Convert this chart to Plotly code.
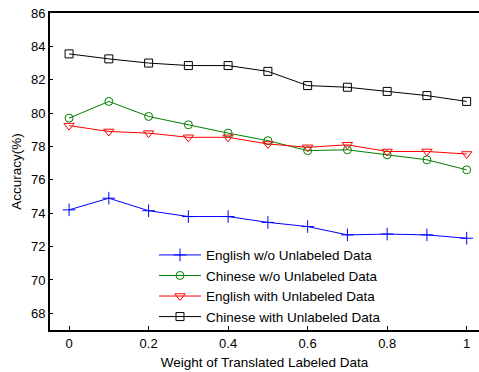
import plotly.graph_objects as go

x_vals = [0, 0.1, 0.2, 0.3, 0.4, 0.5, 0.6, 0.7, 0.8, 0.9, 1.0]
english_wo = [74.2, 74.9, 74.15, 73.8, 73.8, 73.45, 73.2, 72.7, 72.75, 72.7, 72.5]
chinese_wo = [79.7, 80.7, 79.8, 79.3, 78.8, 78.35, 77.75, 77.8, 77.5, 77.2, 76.6]
english_with = [79.25, 78.9, 78.8, 78.55, 78.55, 78.15, 77.95, 78.1, 77.7, 77.7, 77.55]
chinese_with = [83.55, 83.25, 83.0, 82.85, 82.85, 82.5, 81.65, 81.55, 81.3, 81.05, 80.7]

series = [
    ("English w/o Unlabeled Data", english_wo, "#0000ff", "cross-thin-open", 9),
    ("Chinese w/o Unlabeled Data", chinese_wo, "#008000", "circle-open", 8),
    ("English with Unlabeled Data", english_with, "#ff0000", "triangle-down-open", 9),
    ("Chinese with Unlabeled Data", chinese_with, "#000000", "square-open", 8),
]

fig = go.Figure()
for name, ys, col, sym, sz in series:
    fig.add_trace(go.Scatter(
        x=x_vals, y=ys, name=name, mode="lines+markers",
        line=dict(color=col, width=1),
        marker=dict(symbol=sym, size=sz, color=col, line=dict(color=col, width=1)),
    ))

fam = "Liberation Sans, Arial, sans-serif"
font = dict(family=fam, size=13, color="black")
fig.update_layout(
    width=479, height=372,
    margin=dict(l=50, r=0, t=13, b=42),
    paper_bgcolor="white", plot_bgcolor="white",
    font=font,
    showlegend=True,
    legend=dict(x=0.2424, y=0.285, xanchor="left", yanchor="top",
                bgcolor="rgba(0,0,0,0)", font=dict(family=fam, size=13.5, color="black"),
                tracegroupgap=0, itemwidth=42),
    xaxis=dict(range=[-0.048, 1.031], tickvals=[0, 0.2, 0.4, 0.6, 0.8, 1],
               ticktext=["0", "0.2", "0.4", "0.6", "0.8", "1"],
               tickfont=dict(family=fam, size=13, color="black"),
               showline=True, linecolor="black", linewidth=2, mirror=True,
               ticks="inside", ticklen=4, tickcolor="black", showgrid=False,
               zeroline=False,
               title=dict(text="Weight of Translated Labeled Data", standoff=8,
                          font=dict(family=fam, size=13.5, color="black"))),
    yaxis=dict(range=[67, 86], tickvals=[68, 70, 72, 74, 76, 78, 80, 82, 84, 86],
               tickfont=dict(family=fam, size=13, color="black"),
               showline=True, linecolor="black", linewidth=2, mirror=False,
               ticks="inside", ticklen=3, tickcolor="black", showgrid=False,
               zeroline=False,
               title=dict(text="Accuracy(%)", standoff=6,
                          font=dict(family=fam, size=13.5, color="black"))),
)

fig.write_html("out.html")
